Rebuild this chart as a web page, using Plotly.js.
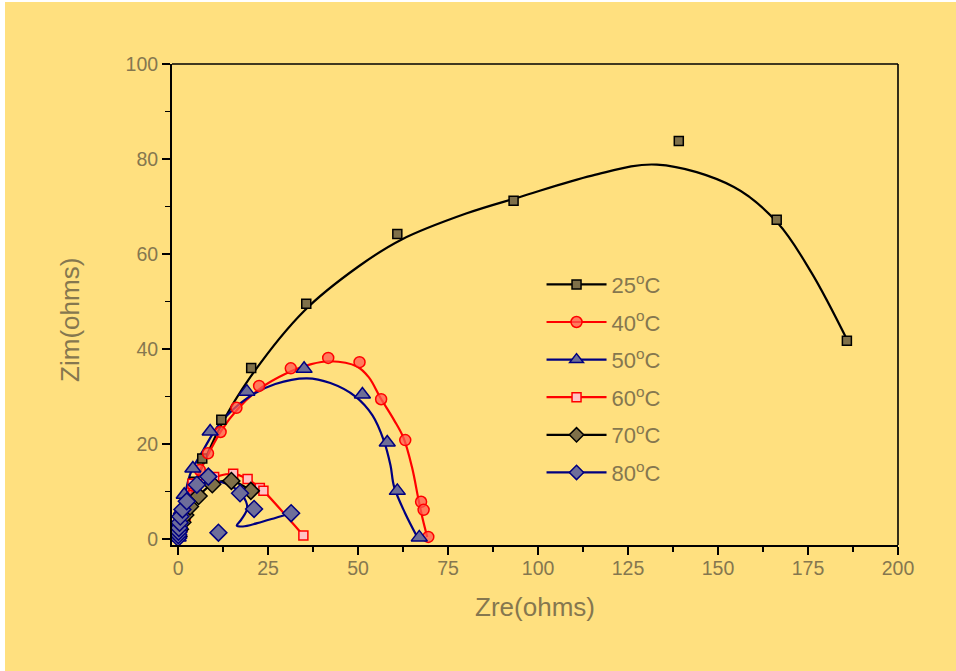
<!DOCTYPE html>
<html><head><meta charset="utf-8">
<script src="https://cdn.plot.ly/plotly-3.0.1.min.js"></script>
<style>html,body{margin:0;padding:0;background:#ffffff;}#chart{position:absolute;left:5px;top:2px;width:951px;height:669px;}</style>
</head><body><div id="chart"></div>
<script>
// ---- measured points (Zre, Zim) ----
const names = ['25<sup>o</sup>C','40<sup>o</sup>C','50<sup>o</sup>C','60<sup>o</sup>C','70<sup>o</sup>C','80<sup>o</sup>C'];

const x25 = [0.2, 0.5, 1, 2, 3, 4.5, 6.7, 12.0, 20.3, 35.6, 60.9, 93.2, 139.1, 166.3, 185.8];
const y25 = [0.5, 1.5, 3, 5, 8, 12, 16.9, 25.1, 36.0, 49.5, 64.2, 71.2, 83.8, 67.2, 41.7];

const x40 = [0.3, 1, 1.8, 2.7, 3.5, 4.5, 6, 8.3, 11.8, 16.2, 22.5, 31.3, 41.7, 50.4, 56.4, 63.1, 67.5, 68.2, 69.5];
const y40 = [0.5, 2, 4, 6.5, 9, 11.5, 14.5, 18, 22.5, 27.6, 32.2, 35.9, 38.1, 37.2, 29.4, 20.8, 7.8, 6.1, 0.4];

const x50 = [0, 0.1, 0.2, 0.3, 0.5, 0.9, 1.7, 4.1, 8.9, 19.1, 35.0, 51.2, 58.1, 60.9, 67.0];
const y50 = [0.3, 1, 2, 3, 4, 6, 9.3, 14.8, 22.6, 31.0, 35.8, 30.4, 20.3, 10.1, 0.3];

const x60 = [0.1, 0.4, 1, 2, 4, 10, 15.3, 19.3, 22.7, 23.7, 34.8];
const y60 = [0.5, 2, 4, 7, 11.6, 13.0, 13.7, 12.6, 10.7, 10.1, 0.7];

const x70 = [0.1, 0.5, 1.2, 2, 3.3, 5.7, 9.5, 14.8, 20.2];
const y70 = [0.5, 2, 3.5, 5, 6.8, 9, 11.5, 12.2, 10.1];

const x80 = [0, 0.05, 0.1, 0.2, 0.4, 0.6, 1.2, 2.4, 5.2, 8.4, 17.2, 21.1, 31.4, 11.2];
const y80 = [0.2, 0.8, 1.5, 2.3, 3.4, 4.7, 6.2, 7.9, 11.4, 13.1, 9.6, 6.3, 5.4, 1.3];

// ---- fitted curves ----
const fx25 = [0, 5, 12, 20, 35, 50, 62, 80, 95, 115, 133, 154.4, 166.6, 176, 186];
const fy25 = [0, 12, 24, 34, 48, 57.3, 63, 68.5, 72, 76.5, 78.8, 74.1, 66.5, 56, 41.7];

const fx40 = [0, 2, 4, 6, 8.5, 12, 16.5, 22.5, 30, 37, 42.3, 49.7, 53, 56.2, 60, 62.6, 65, 66.8, 68, 69.2];
const fy40 = [0, 5, 10, 14.3, 18, 22.8, 27.3, 31.5, 34.8, 36.8, 37.4, 36.3, 34, 29.7, 25, 21.3, 15, 8.2, 4, 0.4];

const fx50 = [0, 1, 3.3, 7, 11.7, 19.1, 27, 35.8, 42.3, 49.2, 54, 57.1, 59, 60, 63, 66.5];
const fy50 = [0, 5, 13.5, 18.7, 24.4, 29.6, 32.6, 33.8, 32.8, 30, 26, 20.8, 15.5, 11, 5.5, 0.3];

const fx80 = [0, 1, 2.4, 5.2, 9.8, 13.5, 17.7, 19.2, 17.5, 16.3, 18, 22, 27, 31.3];
const fy80 = [0, 4, 7.6, 11, 12.1, 11.6, 9.3, 6.5, 4, 2.8, 2.6, 3.3, 4.4, 5.4];

const xTicks = [0, 25, 50, 75, 100, 125, 150, 175, 200];
const yTicks = [0, 20, 40, 60, 80, 100];

// ---- styles ----
const BLACK = '#000000', RED = '#ff0000', NAVY = '#000080';
const TXT = '#85774f';
const sty = [
  {lc: BLACK, sym: 'square',  size: 9,  fill: '#7f7049', edge: BLACK},
  {lc: RED,   sym: 'circle',  size: 11, fill: 'rgba(255,90,80,0.75)', edge: RED},
  {lc: NAVY,  sym: 'triangle-up', size: 14, fill: '#6e6e96', edge: NAVY},
  {lc: RED,   sym: 'square',  size: 9,  fill: '#ffc4c4', edge: RED},
  {lc: BLACK, sym: 'diamond', size: 13, fill: '#7f7049', edge: BLACK},
  {lc: NAVY,  sym: 'diamond', size: 13, fill: '#6e6e9a', edge: NAVY}
];

function curve(x, y, c) {
  return {x: x, y: y, type: 'scatter', mode: 'lines', showlegend: false, hoverinfo: 'skip',
          line: {color: c, width: 2.2, shape: 'spline', smoothing: 1}};
}
function pts(x, y, s) {
  return {x: x, y: y, type: 'scatter', mode: 'markers', showlegend: false,
          marker: {symbol: s.sym, size: s.size, color: s.fill, line: {color: s.edge, width: 1.5}}};
}
function leg(i) {
  const s = sty[i];
  const ms = s.sym === 'diamond' ? 11 : (s.sym === 'triangle-up' ? 12 : s.size);
  return {x: [null], y: [null], type: 'scatter', mode: 'lines+markers', name: names[i], legendgroup: 'g' + i,
          line: {color: s.lc, width: 2.2}, marker: {symbol: s.sym, size: ms, color: s.fill, line: {color: s.edge, width: 1.5}}};
}

const traces = [
  curve(fx25, fy25, BLACK),
  curve(fx40, fy40, RED),
  curve(fx50, fy50, NAVY),
  curve(x60, y60, RED),
  curve(x70, y70, BLACK),
  curve(fx80, fy80, NAVY),
  pts(x25, y25, sty[0]),
  pts(x40, y40, sty[1]),
  pts(x50, y50, sty[2]),
  pts(x60, y60, sty[3]),
  pts(x70, y70, sty[4]),
  pts(x80, y80, sty[5]),
  leg(0), leg(1), leg(2), leg(3), leg(4), leg(5)
];

const layout = {
  width: 951, height: 669,
  paper_bgcolor: '#ffe07f', plot_bgcolor: '#ffe07f',
  margin: {l: 167, r: 58, t: 62, b: 126},
  font: {family: 'Liberation Sans, Arial, sans-serif', color: TXT, size: 19},
  xaxis: {
    range: [-1.7, 200], tickvals: xTicks, ticktext: xTicks.map(String),
    showgrid: false, zeroline: false, showline: true, linecolor: BLACK, linewidth: 2, mirror: false,
    ticks: 'outside', ticklen: 8, tickwidth: 2, tickcolor: BLACK, ticklabelstandoff: -3,
    minor: {dtick: 12.5, tick0: 0, ticks: 'outside', ticklen: 5, tickwidth: 1.5, tickcolor: BLACK, showgrid: false},
    tickfont: {size: 19.5, color: TXT},
    title: {text: 'Zre(ohms)', font: {size: 26, color: TXT}, standoff: 19}
  },
  yaxis: {
    range: [-1.3, 100], tickvals: yTicks, ticktext: yTicks.map(String),
    showgrid: false, zeroline: false, showline: true, linecolor: BLACK, linewidth: 2, mirror: false,
    ticks: 'outside', ticklen: 8, tickwidth: 2, tickcolor: BLACK,
    minor: {dtick: 10, tick0: 0, ticks: 'outside', ticklen: 5, tickwidth: 1.5, tickcolor: BLACK, showgrid: false},
    tickfont: {size: 19.5, color: TXT}
  },
  annotations: [
    {text: 'Zim(ohms)', xref: 'paper', yref: 'paper', x: -0.1405, y: 0.468, xanchor: 'center', yanchor: 'middle',
     textangle: -90, showarrow: false, font: {size: 26, color: TXT}}
  ],
  shapes: [
    {type: 'line', xref: 'paper', yref: 'paper', x0: 0, x1: 1, y0: 1, y1: 1, line: {color: BLACK, width: 1.3}},
    {type: 'line', xref: 'paper', yref: 'paper', x0: 1, x1: 1, y0: 0, y1: 1, line: {color: BLACK, width: 1.6}}
  ],
  legend: {
    x: 0.509, y: 0.585, xanchor: 'left', yanchor: 'top',
    bgcolor: 'rgba(0,0,0,0)', borderwidth: 0,
    font: {size: 22, color: TXT}, itemwidth: 60, tracegroupgap: 6
  },
  showlegend: true
};

Plotly.newPlot('chart', traces, layout, {displayModeBar: false, staticPlot: true});
</script>
</body></html>
